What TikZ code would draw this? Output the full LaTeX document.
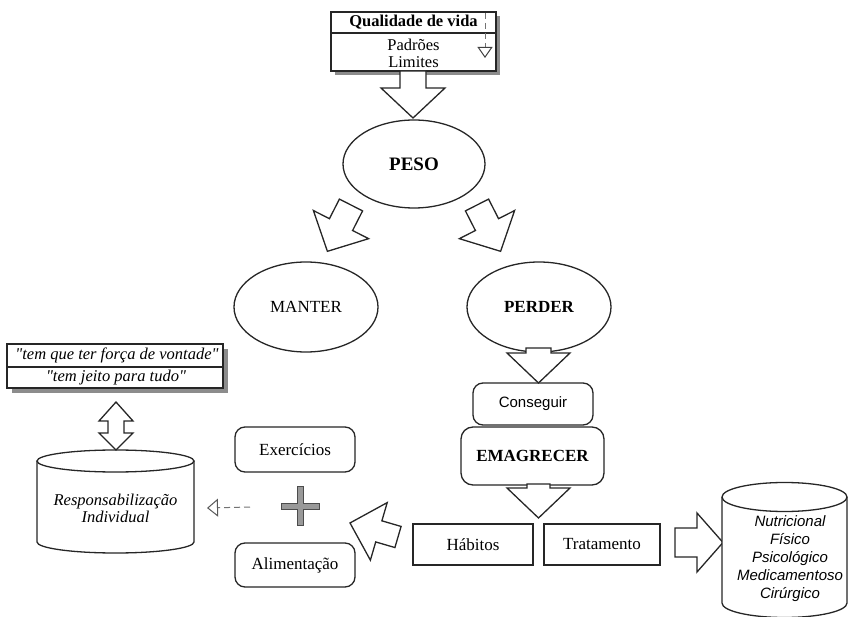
\documentclass[tikz,border=0pt]{standalone}
\usepackage{fontspec}
\setmainfont{Liberation Serif}
\setsansfont{Liberation Sans}
% same serif, but without the TeX quote mapping, so " stays a straight quote
\newfontfamily\plainserif{Liberation Serif}
\usetikzlibrary{arrows.meta,shapes.geometric}

\tikzset{
  outline/.style={draw=black!85, line width=1.3pt},
  serif17/.style={font=\fontsize{17pt}{18pt}\selectfont},
  oval/.style={outline, ellipse, fill=white, minimum width=144pt, minimum height=90pt, inner sep=0pt, serif17},
  roundbox/.style={outline, rectangle, rounded corners=10pt, fill=white, minimum width=120pt, inner sep=0pt, serif17},
  plainbox/.style={outline, rectangle, fill=white, minimum width=120pt, minimum height=41pt, inner sep=0pt, serif17},
  dropshadow/.style={fill=black!45},
  hint/.style={draw=black!55, line width=1pt, dash pattern=on 6pt off 4pt},
  arrowline/.style={draw=black!85, fill=white, line width=1.3pt, line join=miter},
  cyltext/.style={inner sep=0pt, align=center, font=\sffamily\itshape\fontsize{15pt}{18pt}\selectfont},
  quotetext/.style={inner sep=0pt, font=\plainserif\itshape\fontsize{16.5pt}{17pt}\selectfont},
  % block arrow: length / shaft half width / head half width / head length
  pics/blockarrow/.style n args={4}{code={
    \draw[arrowline, x=1pt, y=1pt] (0,-#2) -- (#1-#4,-#2) -- (#1-#4,-#3) -- (#1,0)
      -- (#1-#4,#3) -- (#1-#4,#2) -- (0,#2) -- cycle;
  }}
}

\begin{document}
\begin{tikzpicture}[x=1pt, y=-1pt]
\useasboundingbox (0,0) rectangle (849,617);
\clip (0,0) rectangle (849,617);

% ---- Qualidade de vida ----
\fill[dropshadow] (335,16) rectangle (500,75);
\node[outline, fill=white, minimum width=165pt, minimum height=59pt, inner sep=0pt] (qv) at (413.5,41.5) {};
\draw[outline] (qv.west |- 0,33) -- (qv.east |- 0,33);
\node[serif17, font=\bfseries\fontsize{16.5pt}{18pt}\selectfont] (qvtitle) at (413.5,22.5) {Qualidade de vida};
\node[serif17, align=center, font=\fontsize{16.5pt}{17pt}\selectfont] (qvlines) at (413.5,53.5) {Padrões\\Limites};
\coordinate (qvmarkA) at (485,13);
\coordinate (qvmarkB) at (485,58);
\draw[hint, -{Triangle[open, length=11pt, width=15pt, color=black!75]}] (qvmarkA) -- (qvmarkB);

% ---- central column ----
\node[oval, minimum width=142pt, minimum height=88pt, font=\bfseries\fontsize{19pt}{20pt}\selectfont] (peso) at (414,164) {PESO};
\node[oval] (manter) at (306,307) {MANTER};
\node[oval, font=\bfseries\fontsize{17pt}{18pt}\selectfont] (perder) at (539,307) {PERDER};

\node[roundbox, minimum height=42pt, font=\sffamily\fontsize{15pt}{16pt}\selectfont] (conseguir) at (533,404) {Conseguir};
\node[roundbox, minimum width=143pt, minimum height=58pt, rounded corners=12pt, font=\bfseries\fontsize{17pt}{18pt}\selectfont] (emagrecer) at (532.5,456) {EMAGRECER};

\node[plainbox] (habitos) at (473,544.5) {Hábitos};
\node[plainbox, minimum width=116pt] (tratamento) at (602,544.5) {Tratamento};

\node[roundbox, minimum height=45pt] (exercicios) at (295,449.5) {Exercícios};
\node[roundbox, minimum height=44pt] (alimentacao) at (295,565) {Alimentação};

% ---- block arrows ----
\pic[rotate=-90] at (413,71) {blockarrow={47}{13}{32}{30}};
\pic[rotate=-117] at (351,205) {blockarrow={52}{13}{31}{30}};
\pic[rotate=-63] at (477,205) {blockarrow={52}{13}{31}{30}};
\pic[rotate=-90] at (538.5,348) {blockarrow={35}{12.5}{31.5}{30}};
\pic[rotate=-90] at (538.5,484) {blockarrow={34}{11.5}{31.5}{30}};
\pic[rotate=0] at (675,542.5) {blockarrow={48}{14.5}{29.5}{26}};
\pic[rotate=163.7] at (398,537) {blockarrow={50}{11}{30}{30}};

% ---- plus sign ----
\node[inner sep=0pt, minimum size=38pt] (plus) at (300.5,506) {};
\filldraw[fill=black!40, draw=black!70, line width=1pt]
  ([shift={(-3pt,0pt)}]plus.north) -- ([shift={(3pt,0pt)}]plus.north)
  -- ([shift={(3pt,3pt)}]plus.center) -- ([shift={(0pt,3pt)}]plus.east)
  -- ([shift={(0pt,-3pt)}]plus.east) -- ([shift={(3pt,-3pt)}]plus.center)
  -- ([shift={(3pt,0pt)}]plus.south) -- ([shift={(-3pt,0pt)}]plus.south)
  -- ([shift={(-3pt,-3pt)}]plus.center) -- ([shift={(0pt,-3pt)}]plus.west)
  -- ([shift={(0pt,3pt)}]plus.west) -- ([shift={(-3pt,3pt)}]plus.center) -- cycle;

% ---- Responsabilização Individual ----
\draw[outline, fill=white] (37,461) -- (37,542) arc[start angle=180, end angle=360, x radius=78.5pt, y radius=11pt] -- (194,461);
\draw[outline] (115.5,461) ellipse [x radius=78.5pt, y radius=11pt];
\node[inner sep=0pt, align=center, font=\itshape\fontsize{16.5pt}{17pt}\selectfont] (resp) at (115.5,508) {Responsabilização\\Individual};

\coordinate (dashstart) at (250,507);
\draw[hint, -{Triangle[open, length=11pt, width=18pt, color=black!65]}] (dashstart) -- (resp.east -| 207,0);

% ---- quotes ----
\fill[dropshadow] (12,349) rectangle (228,393);
\node[outline, fill=white, minimum width=216pt, minimum height=44pt, inner sep=0pt] (quotes) at (115,366) {};
\draw[outline] (quotes.west |- 0,367) -- (quotes.east |- 0,367);
\node[quotetext] (quoteA) at (117,355.5) {"tem que ter força de vontade"};
\node[quotetext] (quoteB) at (116,377.5) {"tem jeito para tudo"};

% double arrow between quotes and cylinder
\draw[arrowline] (116,402) -- (133,421) -- (124,421) -- (124,433) -- (133,433) -- (116,450)
  -- (99,433) -- (108,433) -- (108,421) -- (99,421) -- cycle;

% ---- treatment cylinder ----
\draw[outline, fill=white] (722,497) -- (722,603) arc[start angle=180, end angle=360, x radius=62.5pt, y radius=14.5pt] -- (847,497);
\draw[outline] (784.5,497) ellipse [x radius=62.5pt, y radius=14.5pt];
\node[cyltext] (tipos) at (790,559) {Nutricional\\Físico\\Psicológico\\Medicamentoso\\Cirúrgico};

\end{tikzpicture}
\end{document}
